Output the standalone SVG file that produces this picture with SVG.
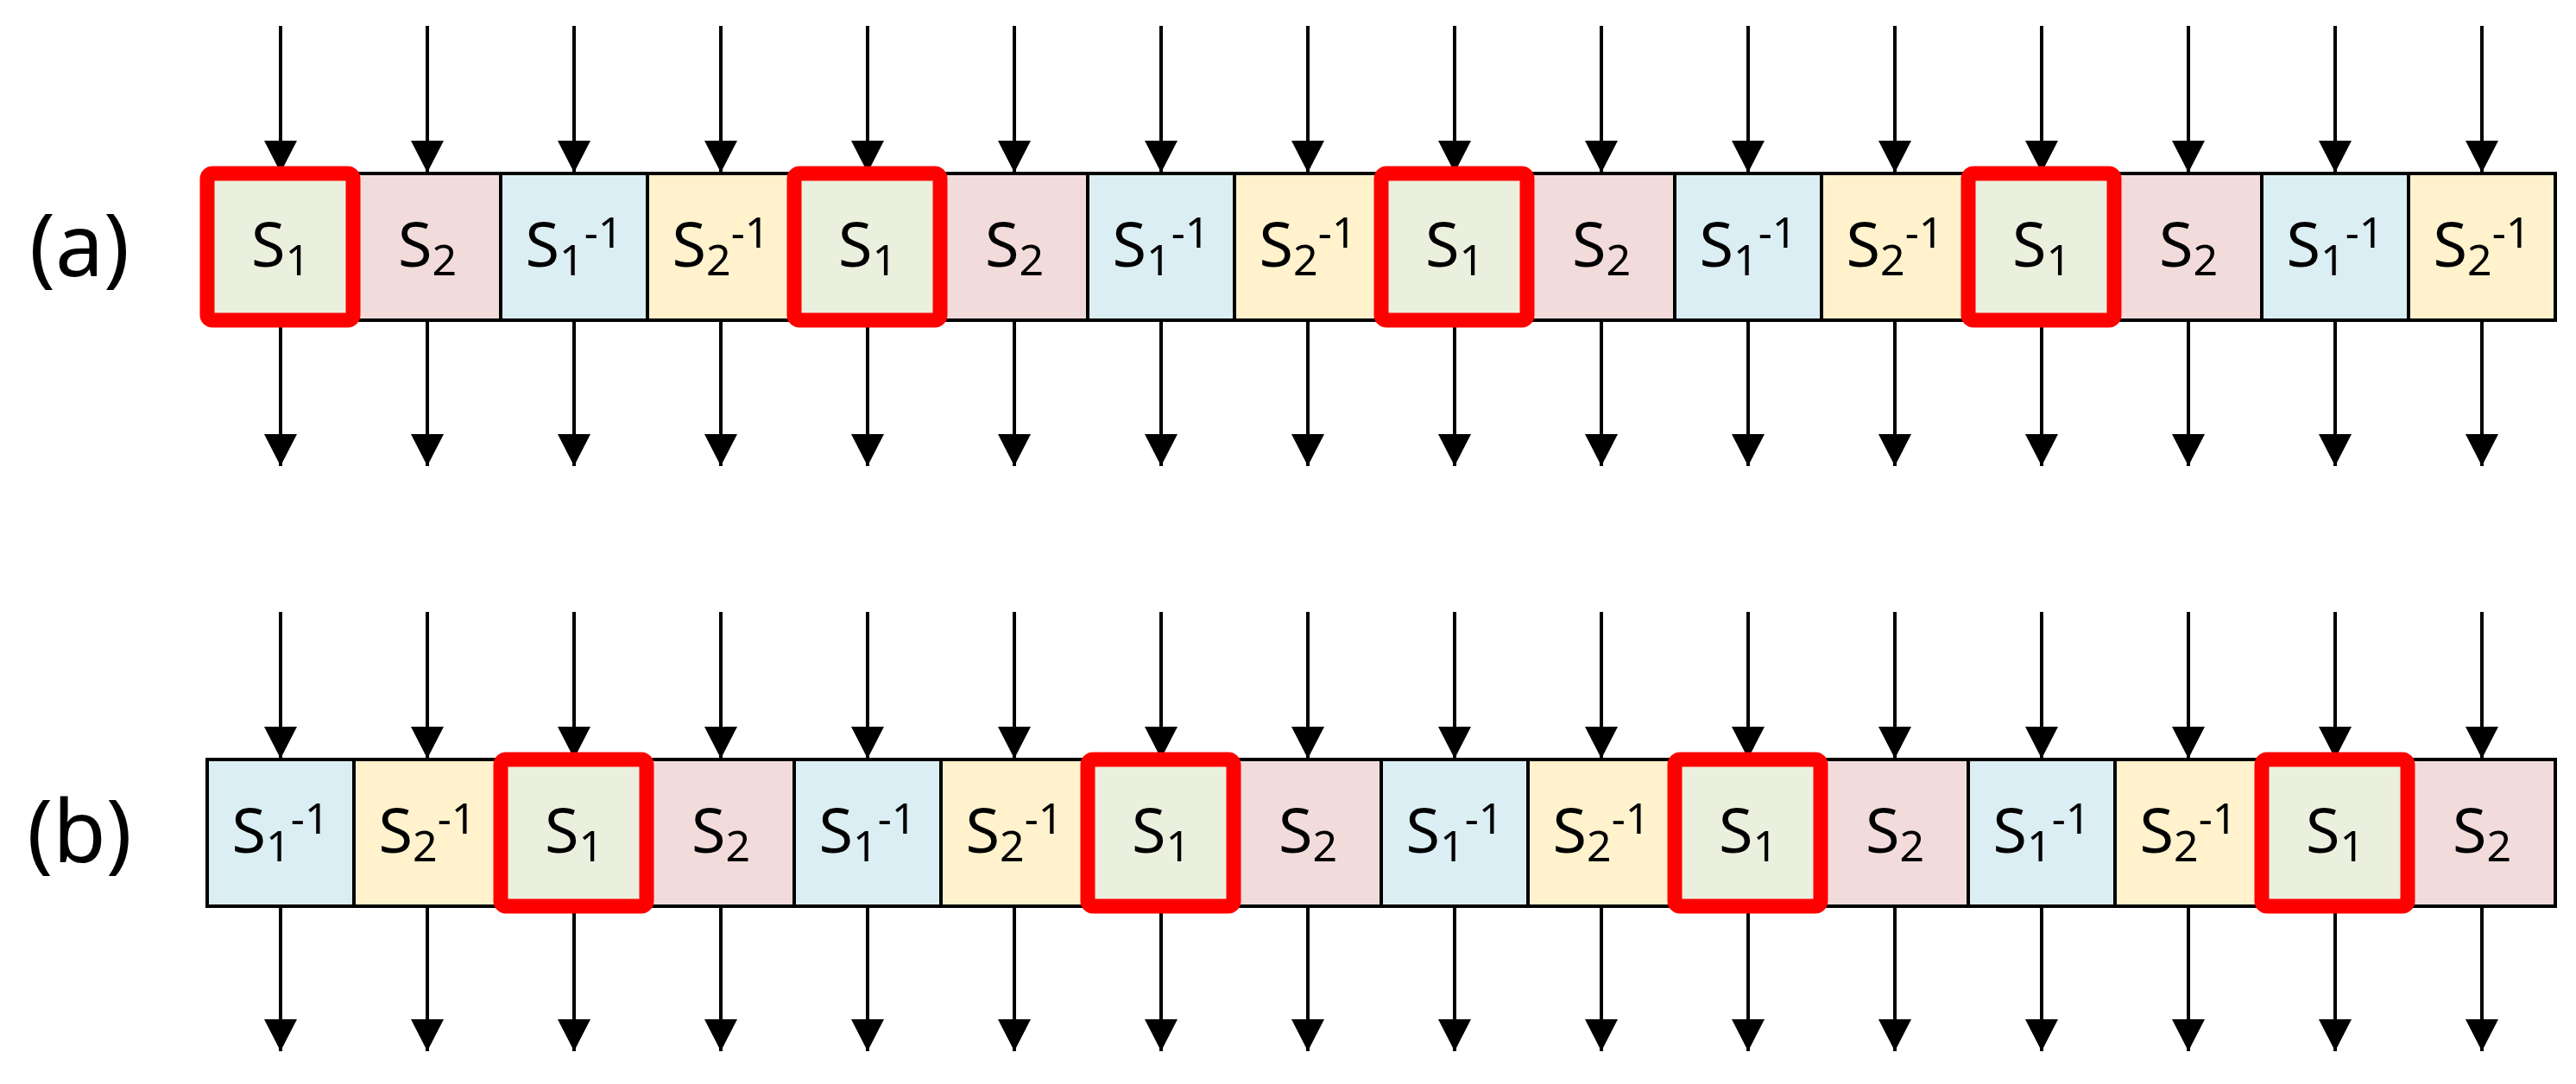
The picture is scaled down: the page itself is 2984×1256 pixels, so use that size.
<svg xmlns="http://www.w3.org/2000/svg" width="2984" height="1256" viewBox="0 0 2984 1256">
<defs>
<marker id="ah" markerUnits="userSpaceOnUse" markerWidth="40" markerHeight="40" refX="37" refY="19" orient="auto" viewBox="0 0 40 40"><path d="M0,0 L37,19 L0,38 Z" fill="#000"/></marker>
<style>
.c{stroke:#000;stroke-width:4}
.g{fill:#EBF0DE}.p{fill:#F2DCDB}.b{fill:#DAEEF3}.y{fill:#FFF2CC}
.r{fill:none;stroke:#FF0000;stroke-width:17}
.t{font-family:"Noto Sans","Open Sans",sans-serif;font-size:72px;fill:#000;text-anchor:middle}
.s{font-size:50px}
.lb{font-family:"Noto Sans","Open Sans",sans-serif;font-size:100px;fill:#000;text-anchor:middle}
.a line{stroke:#000;stroke-width:4;marker-end:url(#ah)}
</style>
</defs>
<g id="connectors" class="a">
<line x1="325" y1="30" x2="325" y2="200"/><line x1="495" y1="30" x2="495" y2="200"/><line x1="665" y1="30" x2="665" y2="200"/><line x1="835" y1="30" x2="835" y2="200"/><line x1="1005" y1="30" x2="1005" y2="200"/><line x1="1175" y1="30" x2="1175" y2="200"/><line x1="1345" y1="30" x2="1345" y2="200"/><line x1="1515" y1="30" x2="1515" y2="200"/><line x1="1685" y1="30" x2="1685" y2="200"/><line x1="1855" y1="30" x2="1855" y2="200"/><line x1="2025" y1="30" x2="2025" y2="200"/><line x1="2195" y1="30" x2="2195" y2="200"/><line x1="2365" y1="30" x2="2365" y2="200"/><line x1="2535" y1="30" x2="2535" y2="200"/><line x1="2705" y1="30" x2="2705" y2="200"/><line x1="2875" y1="30" x2="2875" y2="200"/>
<line x1="325" y1="371" x2="325" y2="540"/><line x1="495" y1="371" x2="495" y2="540"/><line x1="665" y1="371" x2="665" y2="540"/><line x1="835" y1="371" x2="835" y2="540"/><line x1="1005" y1="371" x2="1005" y2="540"/><line x1="1175" y1="371" x2="1175" y2="540"/><line x1="1345" y1="371" x2="1345" y2="540"/><line x1="1515" y1="371" x2="1515" y2="540"/><line x1="1685" y1="371" x2="1685" y2="540"/><line x1="1855" y1="371" x2="1855" y2="540"/><line x1="2025" y1="371" x2="2025" y2="540"/><line x1="2195" y1="371" x2="2195" y2="540"/><line x1="2365" y1="371" x2="2365" y2="540"/><line x1="2535" y1="371" x2="2535" y2="540"/><line x1="2705" y1="371" x2="2705" y2="540"/><line x1="2875" y1="371" x2="2875" y2="540"/>
<line x1="325" y1="709" x2="325" y2="879"/><line x1="495" y1="709" x2="495" y2="879"/><line x1="665" y1="709" x2="665" y2="879"/><line x1="835" y1="709" x2="835" y2="879"/><line x1="1005" y1="709" x2="1005" y2="879"/><line x1="1175" y1="709" x2="1175" y2="879"/><line x1="1345" y1="709" x2="1345" y2="879"/><line x1="1515" y1="709" x2="1515" y2="879"/><line x1="1685" y1="709" x2="1685" y2="879"/><line x1="1855" y1="709" x2="1855" y2="879"/><line x1="2025" y1="709" x2="2025" y2="879"/><line x1="2195" y1="709" x2="2195" y2="879"/><line x1="2365" y1="709" x2="2365" y2="879"/><line x1="2535" y1="709" x2="2535" y2="879"/><line x1="2705" y1="709" x2="2705" y2="879"/><line x1="2875" y1="709" x2="2875" y2="879"/>
<line x1="325" y1="1050" x2="325" y2="1218"/><line x1="495" y1="1050" x2="495" y2="1218"/><line x1="665" y1="1050" x2="665" y2="1218"/><line x1="835" y1="1050" x2="835" y2="1218"/><line x1="1005" y1="1050" x2="1005" y2="1218"/><line x1="1175" y1="1050" x2="1175" y2="1218"/><line x1="1345" y1="1050" x2="1345" y2="1218"/><line x1="1515" y1="1050" x2="1515" y2="1218"/><line x1="1685" y1="1050" x2="1685" y2="1218"/><line x1="1855" y1="1050" x2="1855" y2="1218"/><line x1="2025" y1="1050" x2="2025" y2="1218"/><line x1="2195" y1="1050" x2="2195" y2="1218"/><line x1="2365" y1="1050" x2="2365" y2="1218"/><line x1="2535" y1="1050" x2="2535" y2="1218"/><line x1="2705" y1="1050" x2="2705" y2="1218"/><line x1="2875" y1="1050" x2="2875" y2="1218"/>
</g>
<text id="label-a" class="lb" x="92" y="320">(a)</text>
<text id="label-b" class="lb" x="92" y="999">(b)</text>
<g id="row-a">
<rect class="c g" x="240" y="201" width="170" height="170"/><rect class="c p" x="410" y="201" width="170" height="170"/><rect class="c b" x="580" y="201" width="170" height="170"/><rect class="c y" x="750" y="201" width="170" height="170"/>
<rect class="c g" x="920" y="201" width="170" height="170"/><rect class="c p" x="1090" y="201" width="170" height="170"/><rect class="c b" x="1260" y="201" width="170" height="170"/><rect class="c y" x="1430" y="201" width="170" height="170"/>
<rect class="c g" x="1600" y="201" width="170" height="170"/><rect class="c p" x="1770" y="201" width="170" height="170"/><rect class="c b" x="1940" y="201" width="170" height="170"/><rect class="c y" x="2110" y="201" width="170" height="170"/>
<rect class="c g" x="2280" y="201" width="170" height="170"/><rect class="c p" x="2450" y="201" width="170" height="170"/><rect class="c b" x="2620" y="201" width="170" height="170"/><rect class="c y" x="2790" y="201" width="170" height="170"/>
<g class="t">
<text x="325" y="309">S<tspan class="s" dy="10">1</tspan></text>
<text x="495" y="309">S<tspan class="s" dy="10">2</tspan></text>
<text x="665" y="309">S<tspan class="s" dy="10">1</tspan><tspan class="s" dy="-32">-1</tspan></text>
<text x="835" y="309">S<tspan class="s" dy="10">2</tspan><tspan class="s" dy="-32">-1</tspan></text>
<text x="1005" y="309">S<tspan class="s" dy="10">1</tspan></text>
<text x="1175" y="309">S<tspan class="s" dy="10">2</tspan></text>
<text x="1345" y="309">S<tspan class="s" dy="10">1</tspan><tspan class="s" dy="-32">-1</tspan></text>
<text x="1515" y="309">S<tspan class="s" dy="10">2</tspan><tspan class="s" dy="-32">-1</tspan></text>
<text x="1685" y="309">S<tspan class="s" dy="10">1</tspan></text>
<text x="1855" y="309">S<tspan class="s" dy="10">2</tspan></text>
<text x="2025" y="309">S<tspan class="s" dy="10">1</tspan><tspan class="s" dy="-32">-1</tspan></text>
<text x="2195" y="309">S<tspan class="s" dy="10">2</tspan><tspan class="s" dy="-32">-1</tspan></text>
<text x="2365" y="309">S<tspan class="s" dy="10">1</tspan></text>
<text x="2535" y="309">S<tspan class="s" dy="10">2</tspan></text>
<text x="2705" y="309">S<tspan class="s" dy="10">1</tspan><tspan class="s" dy="-32">-1</tspan></text>
<text x="2875" y="309">S<tspan class="s" dy="10">2</tspan><tspan class="s" dy="-32">-1</tspan></text>
</g>
<rect class="r" x="240" y="201" width="169" height="170" rx="6"/><rect class="r" x="920" y="201" width="169" height="170" rx="6"/><rect class="r" x="1600" y="201" width="169" height="170" rx="6"/><rect class="r" x="2280" y="201" width="169" height="170" rx="6"/>
</g>
<g id="row-b">
<rect class="c b" x="240" y="880" width="170" height="170"/><rect class="c y" x="410" y="880" width="170" height="170"/><rect class="c g" x="580" y="880" width="170" height="170"/><rect class="c p" x="750" y="880" width="170" height="170"/>
<rect class="c b" x="920" y="880" width="170" height="170"/><rect class="c y" x="1090" y="880" width="170" height="170"/><rect class="c g" x="1260" y="880" width="170" height="170"/><rect class="c p" x="1430" y="880" width="170" height="170"/>
<rect class="c b" x="1600" y="880" width="170" height="170"/><rect class="c y" x="1770" y="880" width="170" height="170"/><rect class="c g" x="1940" y="880" width="170" height="170"/><rect class="c p" x="2110" y="880" width="170" height="170"/>
<rect class="c b" x="2280" y="880" width="170" height="170"/><rect class="c y" x="2450" y="880" width="170" height="170"/><rect class="c g" x="2620" y="880" width="170" height="170"/><rect class="c p" x="2790" y="880" width="170" height="170"/>
<g class="t">
<text x="325" y="988">S<tspan class="s" dy="10">1</tspan><tspan class="s" dy="-32">-1</tspan></text>
<text x="495" y="988">S<tspan class="s" dy="10">2</tspan><tspan class="s" dy="-32">-1</tspan></text>
<text x="665" y="988">S<tspan class="s" dy="10">1</tspan></text>
<text x="835" y="988">S<tspan class="s" dy="10">2</tspan></text>
<text x="1005" y="988">S<tspan class="s" dy="10">1</tspan><tspan class="s" dy="-32">-1</tspan></text>
<text x="1175" y="988">S<tspan class="s" dy="10">2</tspan><tspan class="s" dy="-32">-1</tspan></text>
<text x="1345" y="988">S<tspan class="s" dy="10">1</tspan></text>
<text x="1515" y="988">S<tspan class="s" dy="10">2</tspan></text>
<text x="1685" y="988">S<tspan class="s" dy="10">1</tspan><tspan class="s" dy="-32">-1</tspan></text>
<text x="1855" y="988">S<tspan class="s" dy="10">2</tspan><tspan class="s" dy="-32">-1</tspan></text>
<text x="2025" y="988">S<tspan class="s" dy="10">1</tspan></text>
<text x="2195" y="988">S<tspan class="s" dy="10">2</tspan></text>
<text x="2365" y="988">S<tspan class="s" dy="10">1</tspan><tspan class="s" dy="-32">-1</tspan></text>
<text x="2535" y="988">S<tspan class="s" dy="10">2</tspan><tspan class="s" dy="-32">-1</tspan></text>
<text x="2705" y="988">S<tspan class="s" dy="10">1</tspan></text>
<text x="2875" y="988">S<tspan class="s" dy="10">2</tspan></text>
</g>
<rect class="r" x="580" y="880" width="169" height="170" rx="6"/><rect class="r" x="1260" y="880" width="169" height="170" rx="6"/><rect class="r" x="1940" y="880" width="169" height="170" rx="6"/><rect class="r" x="2620" y="880" width="169" height="170" rx="6"/>
</g>
</svg>
